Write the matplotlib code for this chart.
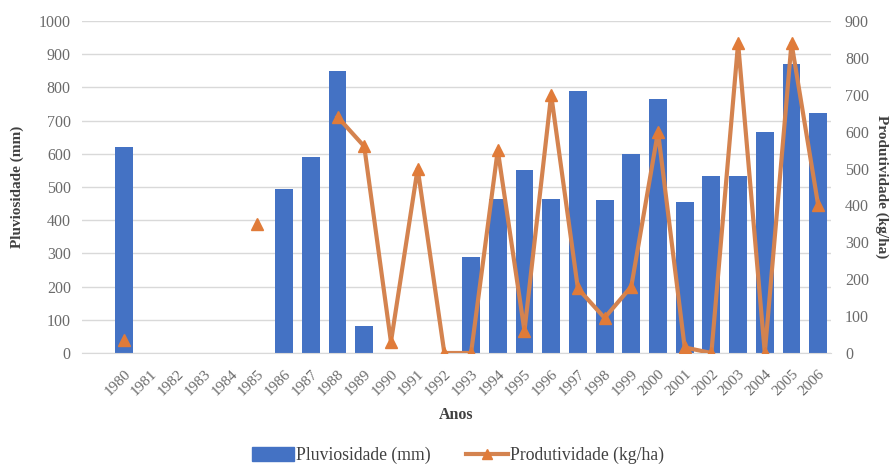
import numpy as np
import matplotlib
matplotlib.use("Agg")
import matplotlib.pyplot as plt
from matplotlib.lines import Line2D
from matplotlib.patches import Patch

anos = [str(a) for a in range(1980, 2007)]
pluviosidade = [620, 0, 0, 0, 0, 0, 495, 590, 850, 80,
                0, 0, 0, 290, 465, 550, 463, 790, 460, 600,
                765, 455, 533, 533, 667, 870, 724]
produtividade = [35, np.nan, np.nan, np.nan, np.nan, 350, np.nan, np.nan, 640, 560,
                 30, 500, 0, 0, 550, 60, 700, 175, 95, 180,
                 600, 15, 0, 840, 0, 840, 400]

left_ticks = list(range(0, 1001, 100))
right_ticks = list(range(0, 901, 100))

blue = "#4472C4"
orange = "#D4834F"
tick_color = "#6b6b6b"
serif = ["Liberation Serif", "DejaVu Serif"]

plt.rcParams["font.family"] = serif

fig = plt.figure(figsize=(8.93, 4.66), dpi=100)
ax = fig.add_axes([0.0918, 0.2425, 0.8388, 0.7125])
ax2 = ax.twinx()

x = np.arange(len(anos))
ax.bar(x, pluviosidade, width=0.67, color=blue, zorder=2)
ax2.plot(x, produtividade, color=orange, lw=3, marker="^", ms=9,
         markerfacecolor="#E07B39", markeredgecolor="#E07B39", zorder=3)

ax.set_ylim(0, 1000)
ax2.set_ylim(0, 900)
ax.set_xlim(-1.57, 26.48)
ax.set_yticks(left_ticks)
ax2.set_yticks(right_ticks)
ax.set_xticks(x)
ax.set_xticklabels(anos, rotation=45, ha="right", rotation_mode="anchor")

ax.yaxis.grid(True, color="#d9d9d9", lw=1, zorder=0)
ax.set_axisbelow(True)
for a in (ax, ax2):
    for s in a.spines.values():
        s.set_visible(False)
    a.tick_params(length=0, colors=tick_color, labelsize=11.5)
ax.spines["bottom"].set_visible(True)
ax.spines["bottom"].set_color("#d9d9d9")
ax.tick_params(axis="x", pad=10, labelsize=11)
ax.tick_params(axis="y", pad=8)
ax2.tick_params(axis="y", pad=10)

ax.set_ylabel("Pluviosidade (mm)", fontsize=11, fontweight="bold", color="#404040", labelpad=11)
ax2.set_ylabel("Produtividade (kg/ha)", fontsize=11, fontweight="bold", color="#404040",
               rotation=-90, labelpad=14)
ax.set_xlabel("Anos", fontsize=11.5, fontweight="bold", color="#404040", labelpad=7)

handles = [Patch(facecolor=blue, edgecolor=blue),
           Line2D([0], [0], color=orange, lw=3, marker="^", ms=7,
                  markerfacecolor="#E07B39", markeredgecolor="#E07B39")]
fig.legend(handles, ["Pluviosidade (mm)", "Produtividade (kg/ha)"],
           loc="lower center", bbox_to_anchor=(0.513, -0.03), ncol=2, frameon=False,
           fontsize=12.7, handlelength=2.4, handleheight=0.8, columnspacing=2.0,
           handletextpad=0.1, labelcolor="#404040")

fig.savefig("out.png", dpi=100)
